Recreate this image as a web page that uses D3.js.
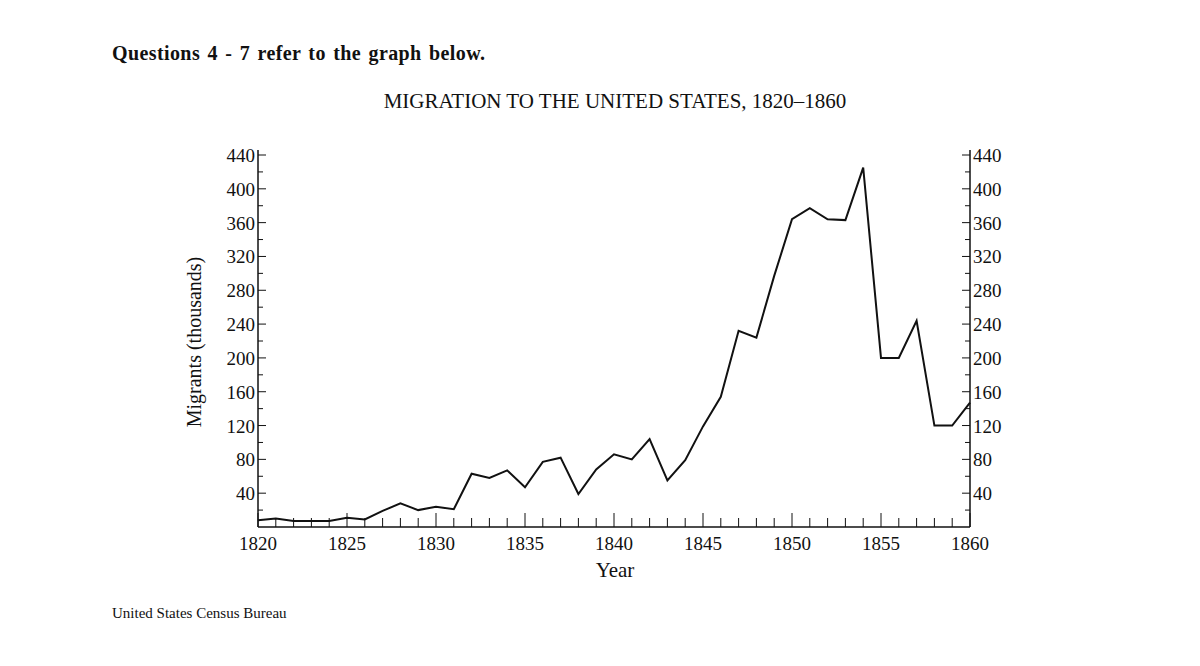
<!DOCTYPE html>
<html><head><meta charset="utf-8">
<script src="https://cdn.jsdelivr.net/npm/d3@7"></script>
<style>body{margin:0;background:#fff}text{font-family:"Liberation Serif","DejaVu Serif",serif;fill:#111}</style>
</head><body><svg width="1200" height="666"></svg>
<script>
var years = d3.range(1820, 1861);
var migrants = [8,10,7,7,7,11,9,19,28,20,24,21,63,58,67,47,77,82,39,68,86,80,104,55,79,119,154,232,224,297,364,377,364,363,425,200,200,244,120,120,147];
var yTicks = [40,80,120,160,200,240,280,320,360,400,440];
var xTicks = [1820,1825,1830,1835,1840,1845,1850,1855,1860];

var svg = d3.select('svg');
var x = d3.scaleLinear().domain([1820, 1860]).range([258, 970]);
var y = d3.scaleLinear().domain([0, 440]).range([527, 155]);

svg.append('text').attr('x', 112).attr('y', 60).style('font-size', '20px').style('font-weight', 'bold')
    .style('word-spacing', '2px').style('letter-spacing', '0.4px')
    .text('Questions 4 - 7 refer to the graph below.');
svg.append('text').attr('x', 615).attr('y', 108).attr('text-anchor', 'middle').style('font-size', '21px')
    .text('MIGRATION TO THE UNITED STATES, 1820\u20131860');
svg.append('text').attr('x', 112).attr('y', 618).style('font-size', '15px').text('United States Census Bureau');
svg.append('text').attr('x', 615).attr('y', 577).attr('text-anchor', 'middle').style('font-size', '21px').text('Year');
svg.append('text').attr('transform', 'translate(201,342) rotate(-90)').attr('text-anchor', 'middle')
    .style('font-size', '20px').text('Migrants (thousands)');

var minorY = d3.range(20, 441, 20);
svg.append('line').attr('x1', x(1820)).attr('x2', x(1820)).attr('y1', 150).attr('y2', 527).style('stroke', '#111').style('stroke-width', 1.5);
svg.append('line').attr('x1', x(1860)).attr('x2', x(1860)).attr('y1', 150).attr('y2', 527).style('stroke', '#111').style('stroke-width', 1.5);
svg.append('line').attr('x1', x(1820)).attr('x2', x(1860)).attr('y1', 527).attr('y2', 527).style('stroke', '#111').style('stroke-width', 1.5);
minorY.forEach(function(v) {
    var len = v % 40 == 0 ? 8 : 5;
    svg.append('line').attr('x1', x(1820)).attr('x2', x(1820) + len).attr('y1', y(v)).attr('y2', y(v)).style('stroke', '#111');
    svg.append('line').attr('x1', x(1860)).attr('x2', x(1860) - len).attr('y1', y(v)).attr('y2', y(v)).style('stroke', '#111');
});
yTicks.forEach(function(v) {
    svg.append('text').attr('x', x(1820) - 3).attr('y', y(v) + 7).attr('text-anchor', 'end').style('font-size', '19px').text(v);
    svg.append('text').attr('x', x(1860) + 3).attr('y', y(v) + 7).style('font-size', '19px').text(v);
});
years.forEach(function(yr) {
    var len = yr % 5 == 0 ? 14 : 9;
    svg.append('line').attr('x1', x(yr)).attr('x2', x(yr)).attr('y1', 527).attr('y2', 527 - len).style('stroke', '#111');
});
xTicks.forEach(function(yr) {
    svg.append('text').attr('x', x(yr)).attr('y', 550).attr('text-anchor', 'middle').style('font-size', '19px').text(yr);
});

var line = d3.line().x(function(d, i) { return x(years[i]); }).y(function(d) { return y(d); });
svg.append('path').datum(migrants).attr('d', line).style('fill', 'none').style('stroke', '#111').style('stroke-width', 2);
</script></body></html>
